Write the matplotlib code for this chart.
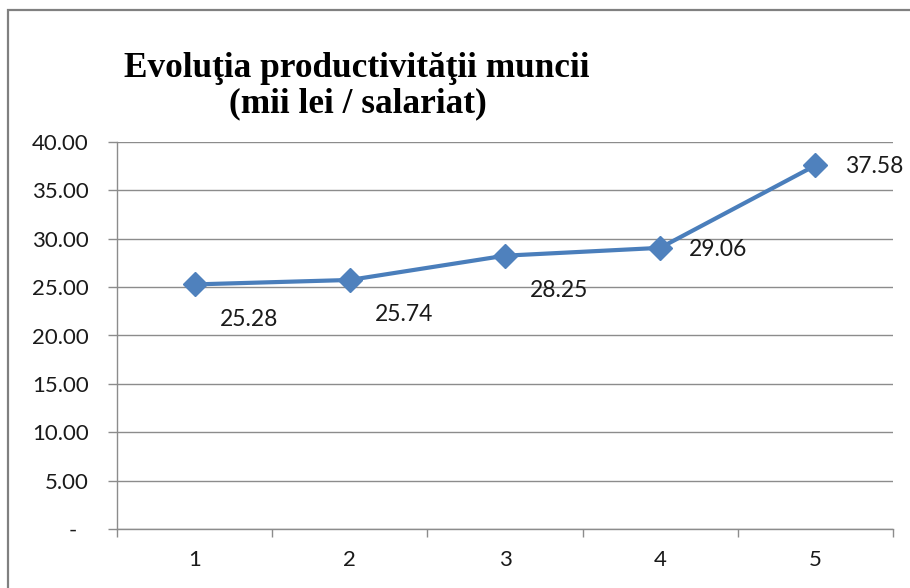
import matplotlib
matplotlib.use("Agg")
import matplotlib.pyplot as plt
from matplotlib.patches import Rectangle
from matplotlib.ticker import FixedLocator, FuncFormatter

# Data
years = [1, 2, 3, 4, 5]
productivity = [25.28, 25.74, 28.25, 29.06, 37.58]
y_ticks = [0, 5, 10, 15, 20, 25, 30, 35, 40]

title_line1 = "Evoluţia productivităţii muncii"
title_line2 = "(mii lei / salariat)"

LINE_COLOR = "#4a7ebb"
MARKER_COLOR = "#4f81bd"
GRID_COLOR = "#8c8c8c"
TEXT_FONT = ["Lato", "DejaVu Sans"]
TITLE_FONT = ["Liberation Serif", "DejaVu Serif"]


def y_label(v, _pos):
    return "-  " if v == 0 else f"{v:.2f}"


fig = plt.figure(figsize=(9.1, 5.88), dpi=100)
fig.patch.set_facecolor("white")

# outer chart border (runs off the right/bottom edges in the reference)
fig.patches.append(Rectangle((8 / 910, -0.05), 1.1, 1 - 10 / 588 + 0.05,
                             transform=fig.transFigure, fill=False,
                             edgecolor="#808080", linewidth=1.6))

ax = fig.add_axes([117 / 910, 1 - 529 / 588, (893 - 117) / 910, (529 - 142) / 588])
ax.plot(years, productivity, color=LINE_COLOR, linewidth=3.0, marker="D",
        markersize=12.5, markerfacecolor=MARKER_COLOR, markeredgecolor=MARKER_COLOR,
        zorder=3)

ax.set_xlim(0.5, 5.5)
ax.set_ylim(0, 40)
ax.yaxis.set_major_locator(FixedLocator(y_ticks))
ax.yaxis.set_major_formatter(FuncFormatter(y_label))
ax.xaxis.set_major_locator(FixedLocator(years))
ax.xaxis.set_minor_locator(FixedLocator([x + 0.5 for x in [0] + years]))
ax.grid(axis="y", color=GRID_COLOR, linewidth=1.0)
ax.set_axisbelow(True)

for side in ["top", "right"]:
    ax.spines[side].set_visible(False)
for side in ["left", "bottom"]:
    ax.spines[side].set_color(GRID_COLOR)
    ax.spines[side].set_linewidth(1.0)

ax.tick_params(axis="y", length=6.5, width=1.0, color=GRID_COLOR, pad=14,
               labelsize=16, labelcolor="#1a1a1a")
ax.tick_params(axis="x", which="major", length=0, pad=15,
               labelsize=16, labelcolor="#1a1a1a")
ax.tick_params(axis="x", which="minor", length=6, width=1.0, color=GRID_COLOR)
for lbl in ax.get_xticklabels() + ax.get_yticklabels():
    lbl.set_fontfamily(TEXT_FONT)

# data labels: below-right for the first three, right for the last two
for i, (x, y) in enumerate(zip(years, productivity)):
    if i < 3:
        off, ha, va = (39, -25), "center", "center"
    else:
        off, ha, va = (21, -1), "left", "center"
    ax.annotate(f"{y:.2f}", (x, y), xytext=off, textcoords="offset points",
                ha=ha, va=va, fontsize=16.5, color="#1a1a1a", family=TEXT_FONT)

fig.text(357 / 910, 1 - 77 / 588, title_line1, ha="center", va="baseline",
         fontsize=25.4, fontweight="bold", family=TITLE_FONT)
fig.text(358 / 910, 1 - 112 / 588, title_line2, ha="center", va="baseline",
         fontsize=25.4, fontweight="bold", family=TITLE_FONT)

fig.savefig("out.png", dpi=100, facecolor="white")
